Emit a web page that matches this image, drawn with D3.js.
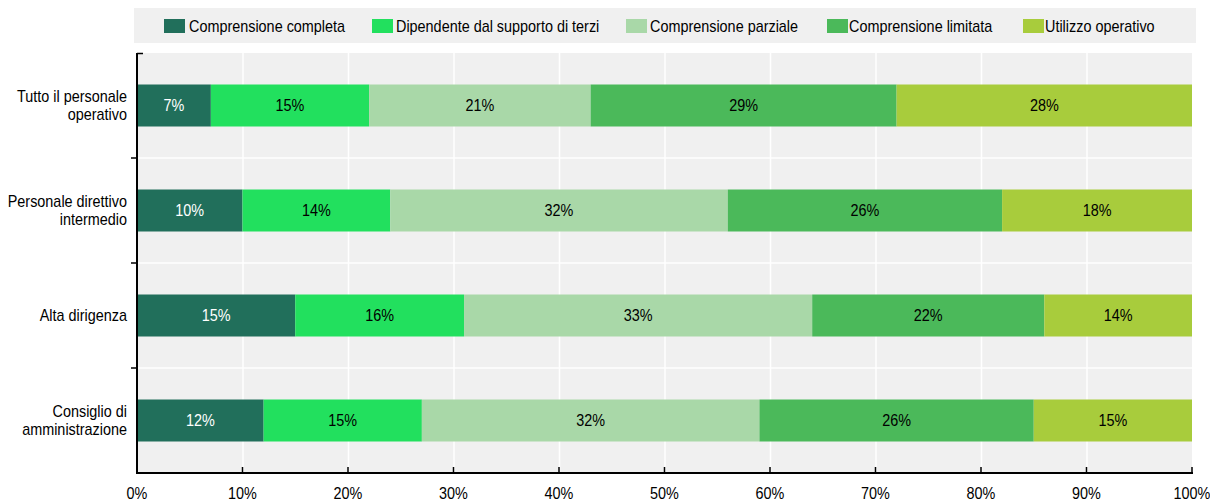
<!DOCTYPE html>
<html><head><meta charset="utf-8">
<script src="https://cdn.jsdelivr.net/npm/d3@7"></script>
<style>
body{margin:0;background:#fff;}
svg text{font-family:"Liberation Sans Narrow","Arial Narrow","Liberation Sans",Arial,sans-serif;font-size:16px;fill:#000;}
</style></head><body>
<svg id="c" width="1210" height="502"></svg>
<script>
const categories = [["Tutto il personale","operativo"],["Personale direttivo","intermedio"],["Alta dirigenza"],["Consiglio di","amministrazione"]];
const seriesNames = ["Comprensione completa","Dipendente dal supporto di terzi","Comprensione parziale","Comprensione limitata","Utilizzo operativo"];
const compCompleta = [7,10,15,12];
const dipendente = [15,14,16,15];
const parziale = [21,32,33,32];
const limitata = [29,26,22,26];
const operativo = [28,18,14,15];
const xTicks = [0,10,20,30,40,50,60,70,80,90,100];
const colors = ["#216f5b","#22e05e","#a9d8a8","#4bb95a","#a8cc3c"];
const labelColors = ["#ffffff","#000","#000","#000","#000"];

const SX = 0.9; // horizontal condensation to mimic a narrow font
const series = [compCompleta,dipendente,parziale,limitata,operativo];
const svg = d3.select("#c");
const m = {l:137,r:1192,t:53,b:473};
const x = d3.scaleLinear().domain([0,100]).range([m.l,m.r]);
const y = d3.scaleBand().domain(d3.range(categories.length)).range([m.t,m.b]).paddingInner(0.6).paddingOuter(0.3);

function txt(parent, px, py, str, anchor){
  return parent.append("text").attr("transform",`translate(${px},${py}) scale(${SX},1)`)
    .attr("text-anchor",anchor||"start").attr("dy","0.35em").text(str);
}

// background
svg.append("rect").attr("x",m.l).attr("y",m.t).attr("width",m.r-m.l).attr("height",m.b-m.t).attr("fill","#f0f0f0");
// vertical grid
svg.selectAll(".vg").data(xTicks.slice(1,-1)).join("line").attr("x1",d=>x(d)+0.5).attr("x2",d=>x(d)+0.5)
 .attr("y1",m.t).attr("y2",m.b).attr("stroke","#fff").attr("stroke-width",1.5);
// horizontal separators
const step = y.step();
const seps = d3.range(1,categories.length);
svg.selectAll(".hg").data(seps).join("line").attr("x1",m.l).attr("x2",m.r)
 .attr("y1",d=>y(d)-step*0.3).attr("y2",d=>y(d)-step*0.3).attr("stroke","#fff").attr("stroke-width",1.5);
svg.selectAll(".ht").data(seps).join("line").attr("x1",m.l-6).attr("x2",m.l)
 .attr("y1",d=>y(d)-step*0.3).attr("y2",d=>y(d)-step*0.3).attr("stroke","#000").attr("stroke-width",1.5);
// top tick
svg.append("line").attr("x1",m.l).attr("x2",m.l+6).attr("y1",m.t+0.5).attr("y2",m.t+0.5).attr("stroke","#000").attr("stroke-width",1.5);

// bars
const stacked = categories.map((c,i)=>{let acc=0;return series.map((s,k)=>{const r={i,k,x0:acc,x1:acc+s[i],v:s[i]};acc+=s[i];return r;});}).flat();
svg.selectAll(".bar").data(stacked).join("rect").attr("x",d=>x(d.x0)).attr("width",d=>x(d.x1)-x(d.x0))
 .attr("y",d=>y(d.i)).attr("height",y.bandwidth()).attr("fill",d=>colors[d.k]);
stacked.forEach(d=>{
  txt(svg,(x(d.x0)+x(d.x1))/2, y(d.i)+y.bandwidth()/2, d.v+"%","middle").style("fill",labelColors[d.k]);
});

// axes lines
svg.append("line").attr("x1",m.l).attr("x2",m.l).attr("y1",m.t).attr("y2",m.b+1).attr("stroke","#000").attr("stroke-width",2);
svg.append("line").attr("x1",m.l-1).attr("x2",m.r+1).attr("y1",m.b).attr("y2",m.b).attr("stroke","#000").attr("stroke-width",2);
svg.selectAll(".xt").data(xTicks).join("line").attr("x1",d=>x(d)).attr("x2",d=>x(d)).attr("y1",m.b-6).attr("y2",m.b).attr("stroke","#000").attr("stroke-width",1.5);
xTicks.forEach(d=>txt(svg,x(d),m.b+20,d+"%","middle"));

// category labels
categories.forEach((lines,i)=>{
  const cy = y(i)+y.bandwidth()/2;
  lines.forEach((ln,j)=>{
    txt(svg,m.l-10,cy+(j-(lines.length-1)/2)*18,ln,"end");
  });
});

// legend
svg.append("rect").attr("x",134).attr("y",8).attr("width",1062).attr("height",35).attr("fill","#f0f0f0");
const legSw = [164,372,626,827,1023];
const legTx = [189,396,650,849,1045];
seriesNames.forEach((n,k)=>{
  svg.append("rect").attr("x",legSw[k]).attr("y",19).attr("width",21).attr("height",14).attr("fill",colors[k]);
  txt(svg,legTx[k],26,n,"start");
});
</script></body></html>
